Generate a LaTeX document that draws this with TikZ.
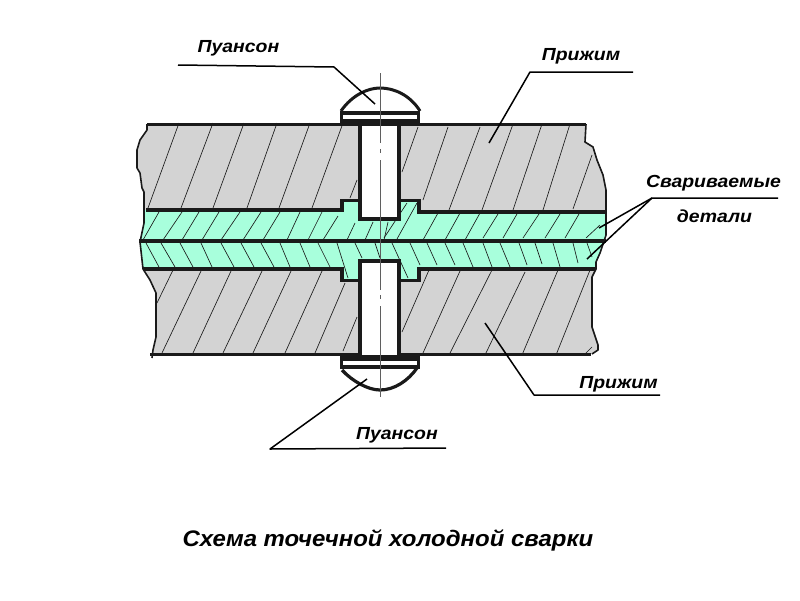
\documentclass[tikz,border=0pt]{standalone}
\usepackage{fontspec}
\setmainfont{Liberation Sans}
\definecolor{plategray}{HTML}{D3D3D3}
\definecolor{partgreen}{HTML}{A8FFDC}
\definecolor{ink}{HTML}{1A1A1A}
\tikzset{
  platefill/.style={fill=plategray,draw=none},
  partfill/.style={fill=partgreen,draw=none},
  heavy/.style={draw=ink,line width=3.9pt,line cap=butt,line join=miter},
  edgeline/.style={draw=ink,line width=1.6pt,line join=round},
  hatchline/.style={draw=ink,line width=0.65pt},
  leader/.style={draw=black,line width=1.5pt,line join=round},
  axisline/.style={draw=ink!70,line width=0.8pt},
  lbl/.style={font=\fontsize{17.5}{20}\selectfont\bfseries\itshape\addfontfeatures{FakeStretch=1.11},anchor=base,inner sep=0pt},
  caption/.style={font=\fontsize{22.5}{26}\selectfont\bfseries\itshape\addfontfeatures{FakeStretch=1.065},anchor=base,inner sep=0pt}
}
\begin{document}
\begin{tikzpicture}[x=1pt,y=-1pt]
\useasboundingbox[fill=white] (0,0) rectangle (800,600);
% fills
\path[platefill] (147,124) -- (147,130) -- (140,140) -- (137,150) -- (137,168) -- (140,173) -- (142,188) -- (144,192) -- (144,210) -- (342,210) -- (342,200) -- (419,200) -- (419,212) -- (606,212) -- (606,190) -- (603,175) -- (597,160) -- (593,147) -- (585,142) -- (586,124) -- cycle;
\path[platefill] (143,269) -- (150,280) -- (156,293) -- (156,337) -- (153,350) -- (153,354) -- (592,354) -- (598,350) -- (598,345) -- (592,327) -- (592,277) -- (596,269) -- (419,269) -- (419,281) -- (342,281) -- (342,269) -- cycle;
\path[partfill] (144,210) -- (342,210) -- (342,200) -- (419,200) -- (419,212) -- (606,212) -- (606,235) -- (604,241) -- (600,253) -- (596,262) -- (596,269) -- (419,269) -- (419,281) -- (342,281) -- (342,269) -- (143,269) -- (140,242) -- (144,223) -- cycle;
% hatching: upper plate
\foreach \xa/\ya/\xb/\yb in {179/123/148/208,213/123/181/208,244/123/213/208,277/123/247/208,310/123/279/208,343/123/312/208,357/180/350/198,418/127/402/172,448/127/423/200,480/127/449/210,513/124/482/210,542/124/513/210,570/124/543/210,592/155/573/209}
  \draw[hatchline] (\xa,\ya) -- (\xb,\yb);
% hatching: lower plate
\foreach \xa/\ya/\xb/\yb in {173/270/157/303,201/271/162/353,231/271/193/353,262/271/223/353,291/271/253/353,322/271/285/353,345/283/315/353,357/317/343/351,429/270/402/332,460/271/423/353,492/270/450/353,525/272/485/355,558/270/522/355,590/270/556/355,592/347/584/355}
  \draw[hatchline] (\xa,\ya) -- (\xb,\yb);
% hatching: upper part
\foreach \xa/\ya/\xb/\yb in {159/212/143/240,182/212/163/240,199/212/182/240,219/212/202/240,240/212/221/240,261/212/243/240,280/212/263/240,300/212/287/240,322/212/308/240,338/216/323/240,355/223/347/240,373/222/365/240,388/222/384/240,407/203/384/238,417/203/397/239,438/213/423/240,460/213/445/240,480/213/465/240,498/214/483/238,517/214/503/238,539/214/523/238,560/214/545/238,579/214/565/238,600/225/586/238}
  \draw[hatchline] (\xa,\ya) -- (\xb,\yb);
% hatching: lower part
\foreach \xa/\ya/\xb/\yb in {146/243/159/267,161/243/175/267,180/243/193/267,201/243/212/267,221/243/234/267,241/243/254/267,261/243/274/267,280/243/290/267,300/243/310/267,318/243/330/267,337/243/348/278,355/243/362/258,375/243/380/258,392/243/408/278,410/243/420/265,427/243/437/265,445/243/455/265,463/243/473/267,483/243/492/267,500/243/510/267,519/243/527/265,535/243/542/264,553/243/560/267,573/243/578/263,587/243/592/257}
  \draw[hatchline] (\xa,\ya) -- (\xb,\yb);
% outer torn edges
\draw[edgeline] (147,124) -- (147,130) -- (140,140) -- (137,150) -- (137,168) -- (140,173) -- (142,188) -- (144,192) -- (144,223) -- (140,242) -- (143,269) -- (150,280) -- (156,293) -- (156,337) -- (153,350) -- (152,358);
\draw[edgeline] (586,124) -- (585,142) -- (593,147) -- (597,160) -- (603,175) -- (606,190) -- (606,235) -- (604,241) -- (600,253) -- (596,262) -- (596,269) -- (592,277) -- (592,327) -- (598,345) -- (598,350) -- (592,354);
% heavy contour lines
\draw[heavy] (147,124.5) -- (586,124.5);
\draw[heavy] (146,210) -- (342,210) -- (342,200.5) -- (419,200.5) -- (419,212) -- (606,212);
\draw[heavy] (139,241) -- (606,241);
\draw[heavy] (143,269) -- (342,269) -- (342,280.5) -- (419,280.5) -- (419,269) -- (596,269);
\draw[heavy] (150,354.5) -- (591,354.5);
% upper punch
\fill[white] (341,111) .. controls (352,95) and (368,88) .. (380,88) .. controls (394,88) and (410,95) .. (420,111) -- cycle;
\draw[draw=ink,line width=3pt] (341,111) .. controls (352,95) and (368,88) .. (380,88) .. controls (394,88) and (410,95) .. (420,111);
\fill[white] (342,113) rectangle (418,122);
\draw[draw=ink,line width=3.4pt] (341.7,122) -- (341.7,113) -- (418.3,113) -- (418.3,122);
\filldraw[fill=white,draw=ink,line width=3.9pt] (360,122) -- (360,219) -- (399,219) -- (399,122) -- cycle;
\draw[draw=ink,line width=6.4pt] (340,122.5) -- (420,122.5);
\fill[white] (362,126) rectangle (397,130);
% lower punch
\fill[white] (342,369) .. controls (352,381) and (368,390) .. (380,390) .. controls (394,390) and (408,381) .. (417,368) -- cycle;
\draw[draw=ink,line width=3.2pt] (342,370) .. controls (352,381) and (368,390) .. (380,390) .. controls (394,390) and (408,381) .. (417,368);
\fill[white] (342,358) rectangle (418,367);
\draw[draw=ink,line width=3.4pt] (341.7,358) -- (341.7,367) -- (418.3,367) -- (418.3,358);
\filldraw[fill=white,draw=ink,line width=3.9pt] (360,358) -- (360,261) -- (399,261) -- (399,358) -- cycle;
\draw[draw=ink,line width=5.6pt] (340,358) -- (420,358);
% axis
\draw[axisline] (380,73) -- (380,143);
\draw[axisline] (380,149) -- (380,153);
\draw[axisline] (380,160) -- (380,290);
\draw[axisline] (380,295) -- (380,299);
\draw[axisline] (380,306) -- (380,397);
% leaders
\coordinate (a1) at (178,65); \coordinate (a2) at (334,67); \coordinate (a3) at (375,104);
\coordinate (b1) at (633,72); \coordinate (b2) at (530,72); \coordinate (b3) at (489,143);
\coordinate (c1) at (778,198); \coordinate (c2) at (652,198); \coordinate (c3) at (599,228); \coordinate (c4) at (587,259);
\coordinate (d1) at (485,323); \coordinate (d2) at (534,395); \coordinate (d3) at (660,395);
\coordinate (e1) at (367,379); \coordinate (e2) at (270,449); \coordinate (e3) at (446,448);
\draw[leader] (a1) -- (a2) -- (a3);
\draw[leader] (b1) -- (b2) -- (b3);
\draw[leader] (c1) -- (c2) -- (c3);
\draw[leader] (c2) -- (c4);
\draw[leader] (d1) -- (d2) -- (d3);
\draw[leader] (e1) -- (e2) -- (e3);
% labels
\node[lbl] (t1) at (238.5,52) {Пуансон};
\node[lbl] (t2) at (581,60) {Прижим};
\node[lbl] (t3) at (713.5,187) {Свариваемые};
\node[lbl] (t4) at (714.5,222) {детали};
\node[lbl] (t5) at (618.5,388) {Прижим};
\node[lbl] (t6) at (397,439) {Пуансон};
\node[caption] (t7) at (388,546) {Схема точечной холодной сварки};
\end{tikzpicture}
\end{document}
